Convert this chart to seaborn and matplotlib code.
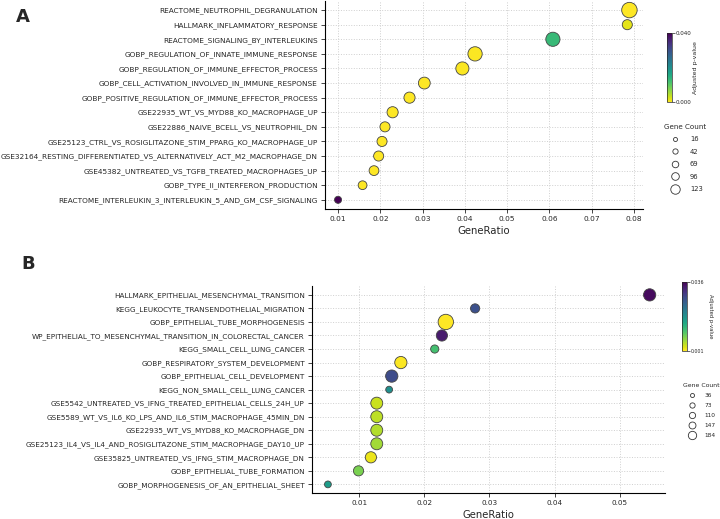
import numpy as np
import pandas as pd
import seaborn as sns
import matplotlib.pyplot as plt
from matplotlib.lines import Line2D
from matplotlib.colors import Normalize
from matplotlib.cm import ScalarMappable

# panel A data
terms_a = ['REACTOME_NEUTROPHIL_DEGRANULATION',
           'HALLMARK_INFLAMMATORY_RESPONSE',
           'REACTOME_SIGNALING_BY_INTERLEUKINS',
           'GOBP_REGULATION_OF_INNATE_IMMUNE_RESPONSE',
           'GOBP_REGULATION_OF_IMMUNE_EFFECTOR_PROCESS',
           'GOBP_CELL_ACTIVATION_INVOLVED_IN_IMMUNE_RESPONSE',
           'GOBP_POSITIVE_REGULATION_OF_IMMUNE_EFFECTOR_PROCESS',
           'GSE22935_WT_VS_MYD88_KO_MACROPHAGE_UP',
           'GSE22886_NAIVE_BCELL_VS_NEUTROPHIL_DN',
           'GSE25123_CTRL_VS_ROSIGLITAZONE_STIM_PPARG_KO_MACROPHAGE_UP',
           'GSE32164_RESTING_DIFFERENTIATED_VS_ALTERNATIVELY_ACT_M2_MACROPHAGE_DN',
           'GSE45382_UNTREATED_VS_TGFB_TREATED_MACROPHAGES_UP',
           'GOBP_TYPE_II_INTERFERON_PRODUCTION',
           'REACTOME_INTERLEUKIN_3_INTERLEUKIN_5_AND_GM_CSF_SIGNALING']
ratio_a = [0.0789, 0.0784, 0.0608, 0.0424, 0.0394, 0.0304, 0.0269,
           0.0229, 0.0211, 0.0204, 0.0196, 0.0185, 0.0158, 0.0100]
padj_a = [0.0001, 0.0016, 0.0130, 0.0002, 0.0002, 0.0001, 0.0001,
          0.0001, 0.0001, 0.0001, 0.0001, 0.0001, 0.0001, 0.0400]
count_a = [123, 45, 101, 103, 85, 67, 58, 58, 45, 45, 45, 42, 31, 16]
legend_a = [16, 42, 69, 96, 123]

# panel B data
terms_b = ['HALLMARK_EPITHELIAL_MESENCHYMAL_TRANSITION',
           'KEGG_LEUKOCYTE_TRANSENDOTHELIAL_MIGRATION',
           'GOBP_EPITHELIAL_TUBE_MORPHOGENESIS',
           'WP_EPITHELIAL_TO_MESENCHYMAL_TRANSITION_IN_COLORECTAL_CANCER',
           'KEGG_SMALL_CELL_LUNG_CANCER',
           'GOBP_RESPIRATORY_SYSTEM_DEVELOPMENT',
           'GOBP_EPITHELIAL_CELL_DEVELOPMENT',
           'KEGG_NON_SMALL_CELL_LUNG_CANCER',
           'GSE5542_UNTREATED_VS_IFNG_TREATED_EPITHELIAL_CELLS_24H_UP',
           'GSE5589_WT_VS_IL6_KO_LPS_AND_IL6_STIM_MACROPHAGE_45MIN_DN',
           'GSE22935_WT_VS_MYD88_KO_MACROPHAGE_DN',
           'GSE25123_IL4_VS_IL4_AND_ROSIGLITAZONE_STIM_MACROPHAGE_DAY10_UP',
           'GSE35825_UNTREATED_VS_IFNG_STIM_MACROPHAGE_DN',
           'GOBP_EPITHELIAL_TUBE_FORMATION',
           'GOBP_MORPHOGENESIS_OF_AN_EPITHELIAL_SHEET']
ratio_b = [0.0546, 0.0278, 0.0233, 0.0227, 0.0216, 0.0164, 0.0150, 0.0146,
           0.0127, 0.0127, 0.0127, 0.0127, 0.0118, 0.0099, 0.0052]
padj_b = [0.0350, 0.0275, 0.0010, 0.0335, 0.0115, 0.0012, 0.0280, 0.0185,
          0.0038, 0.0045, 0.0051, 0.0059, 0.0020, 0.0080, 0.0168]
count_b = [117, 66, 184, 98, 52, 117, 117, 36, 112, 112, 112, 112, 98, 81, 36]
legend_b = [36, 73, 110, 147, 184]

sns.set_style('white')
plt.rcParams['font.family'] = ['DejaVu Sans']

fig = plt.figure(figsize=(7.2, 5.19), dpi=100)


def dotplot(ax, cax, terms, ratio, padj, count, vmin, vmax, sizes, xlim,
            xticks, legend_vals, legend_ms, legend_pos, cb_rot, cb_pad, fs,
            lfs, lsp):
    df = pd.DataFrame({'Term': terms, 'GeneRatio': ratio,
                       'padj': padj, 'Count': count})
    sns.scatterplot(data=df, x='GeneRatio', y='Term', hue='padj', size='Count',
                    palette='viridis_r', hue_norm=(vmin, vmax),
                    sizes=sizes, size_norm=(min(legend_vals), max(legend_vals)),
                    edgecolor='#444444', linewidth=0.6, legend=False,
                    ax=ax, zorder=3)
    n = len(terms)
    ax.set_ylim(n - 1 + 0.64, -0.62)
    ax.set_xlim(*xlim)
    ax.set_xticks(xticks)
    ax.set_xticklabels([f'{t:g}' for t in xticks])
    ax.grid(True, linestyle=':', color='#cfcfcf', linewidth=0.7, zorder=0)
    ax.set_axisbelow(True)
    for s in ['top', 'right']:
        ax.spines[s].set_visible(False)
    for s in ['left', 'bottom']:
        ax.spines[s].set_color('black')
        ax.spines[s].set_linewidth(0.8)
    ax.tick_params(axis='both', labelsize=fs, length=3, width=0.6,
                   left=True, bottom=True, pad=2)
    ax.set_xlabel('GeneRatio', fontsize=fs + 2, labelpad=3)
    ax.set_ylabel('')

    sm = ScalarMappable(norm=Normalize(vmin, vmax), cmap='viridis_r')
    cb = fig.colorbar(sm, cax=cax, ticks=[vmin, vmax], format='%.3f')
    cb.outline.set_linewidth(0.5)
    cb.ax.tick_params(labelsize=lfs - 0.8, length=2, width=0.5, pad=1)
    cb.set_label('Adjusted p-value', fontsize=lfs - 0.4, rotation=cb_rot,
                 labelpad=cb_pad)

    handles = [Line2D([], [], marker='o', ls='', markerfacecolor='white',
                      markeredgecolor='#333333', markeredgewidth=0.6,
                      markersize=m) for m in legend_ms]
    fig.legend(handles, [str(v) for v in legend_vals], title='Gene Count',
               loc='upper left', bbox_to_anchor=legend_pos, frameon=False,
               fontsize=lfs, title_fontsize=lfs + 0.2,
               handletextpad=1.2, labelspacing=lsp, borderpad=0)


ax_a = fig.add_axes([0.451, 0.597, 0.442, 0.401])
cax_a = fig.add_axes([0.926, 0.803, 0.007, 0.133])
dotplot(ax_a, cax_a, terms_a, ratio_a, padj_a, count_a, 0.0, 0.040,
        (26, 124), (0.00685, 0.0821),
        [0.01, 0.02, 0.03, 0.04, 0.05, 0.06, 0.07, 0.08],
        legend_a, [2.9, 3.8, 4.7, 5.5, 6.8], (0.918, 0.768), 90, 1, 5.3,
        4.9, 0.95)

ax_b = fig.add_axes([0.433, 0.050, 0.491, 0.398])
cax_b = fig.add_axes([0.947, 0.324, 0.0065, 0.133])
dotplot(ax_b, cax_b, terms_b, ratio_b, padj_b, count_b, 0.001, 0.036,
        (24, 122), (0.00272, 0.0570),
        [0.01, 0.02, 0.03, 0.04, 0.05],
        legend_b, [2.9, 3.8, 4.5, 5.0, 6.0], (0.944, 0.268), 270, 6, 5.2,
        4.2, 0.85)

fig.text(0.022, 0.985, 'A', fontsize=13, fontweight='bold', va='top')
fig.text(0.029, 0.508, 'B', fontsize=13, fontweight='bold', va='top')

fig.savefig('out.png', dpi=100)
